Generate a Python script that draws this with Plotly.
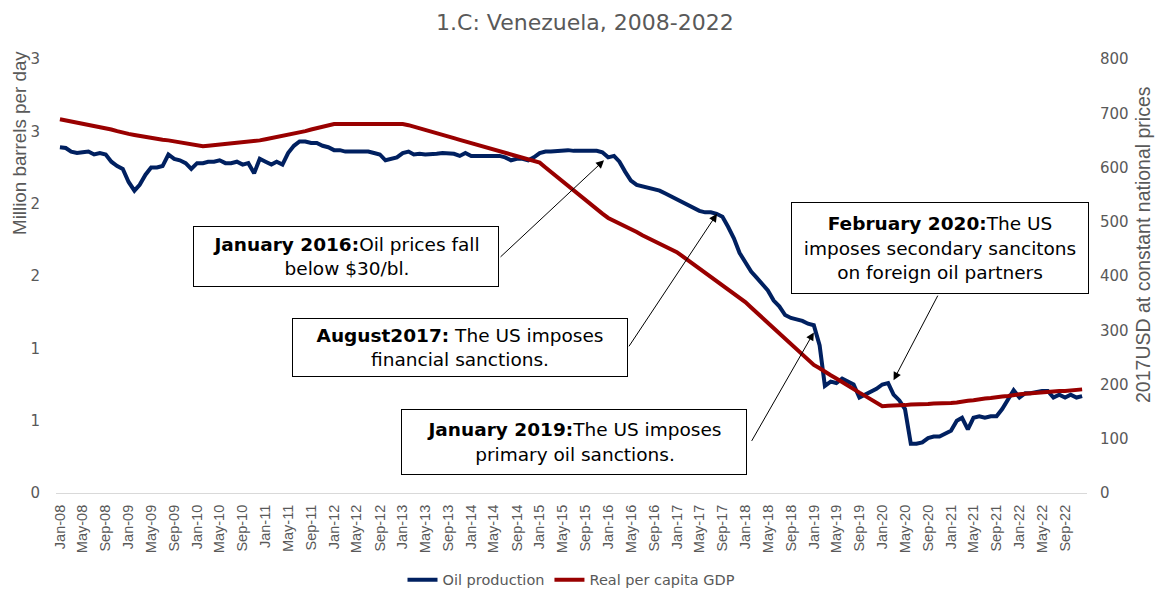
import pandas as pd
import plotly.graph_objects as go

MONTHS = pd.date_range("2008-01-01", periods=180, freq="MS")

OIL_PRODUCTION = [
    # 2008
    2.39, 2.385, 2.36, 2.35, 2.355, 2.36, 2.34, 2.35, 2.34, 2.29, 2.26, 2.24,
    # 2009
    2.15, 2.09, 2.13, 2.20, 2.25, 2.25, 2.26, 2.34, 2.31, 2.30, 2.28, 2.24,
    # 2010
    2.28, 2.28, 2.29, 2.29, 2.30, 2.28, 2.28, 2.29, 2.27, 2.28, 2.21, 2.31,
    # 2011
    2.29, 2.27, 2.29, 2.27, 2.35, 2.40, 2.43, 2.43, 2.42, 2.42, 2.40, 2.39,
    # 2012
    2.37, 2.37, 2.36, 2.36, 2.36, 2.355, 2.36, 2.35, 2.34, 2.30, 2.31, 2.32,
    # 2013
    2.35, 2.36, 2.34, 2.345, 2.34, 2.34, 2.345, 2.35, 2.35, 2.345, 2.33, 2.35,
    # 2014
    2.33, 2.33, 2.33, 2.335, 2.33, 2.33, 2.32, 2.30, 2.31, 2.31, 2.30, 2.32,
    # 2015
    2.35, 2.36, 2.36, 2.365, 2.37, 2.37, 2.365, 2.365, 2.36, 2.365, 2.365, 2.355,
    # 2016
    2.32, 2.33, 2.29, 2.22, 2.16, 2.13, 2.12, 2.11, 2.10, 2.09, 2.07, 2.05,
    # 2017
    2.03, 2.01, 1.99, 1.97, 1.95, 1.94, 1.94, 1.93, 1.91, 1.84, 1.76, 1.66,
    # 2018
    1.60, 1.53, 1.49, 1.44, 1.40, 1.33, 1.29, 1.23, 1.21, 1.20, 1.19, 1.17,
    # 2019
    1.16, 1.02, 0.74, 0.77, 0.76, 0.79, 0.77, 0.75, 0.66, 0.68, 0.70, 0.72,
    # 2020
    0.75, 0.76, 0.68, 0.64, 0.58, 0.34, 0.34, 0.35, 0.38, 0.39, 0.39, 0.41,
    # 2021
    0.43, 0.50, 0.52, 0.44, 0.52, 0.53, 0.52, 0.53, 0.53, 0.58, 0.64, 0.71,
    # 2022
    0.66, 0.69, 0.69, 0.70, 0.705, 0.705, 0.66, 0.68, 0.66, 0.68, 0.66, 0.67,
]

REAL_GDP_PER_CAPITA = [
    # 2008
    689, 687, 685, 683, 681, 679, 677, 675, 673, 670, 667, 664,
    # 2009
    662, 660, 658, 656, 654, 652, 651, 650, 648, 646, 644, 642,
    # 2010
    640, 639, 640, 641, 642, 643, 644, 645, 646, 647, 648, 650,
    # 2011
    652, 654, 656, 658, 660, 662, 665, 667, 670, 672, 675, 677,
    # 2012
    680, 680, 680, 680, 680, 680, 680, 680, 680, 680, 680, 680,
    # 2013
    680, 678, 675, 672, 669, 666, 663, 660, 657, 654, 651, 648,
    # 2014
    645, 642, 639, 636, 633, 630, 627, 624, 621, 618, 615, 612,
    # 2015
    609, 600, 592, 583, 575, 566, 558, 549, 541, 532, 524, 515,
    # 2016
    507, 502, 497, 491, 486, 481, 475, 470, 465, 460, 455, 449,
    # 2017
    444, 436, 429, 421, 413, 406, 398, 390, 383, 375, 367, 360,
    # 2018
    352, 342, 333, 323, 313, 304, 294, 284, 275, 265, 255, 246,
    # 2019
    236, 230, 223, 217, 211, 204, 198, 192, 185, 179, 173, 166,
    # 2020
    160, 161, 161, 162, 162, 163, 163, 164, 164, 165, 165, 166,
    # 2021
    166, 167, 169, 170, 171, 173, 174, 175, 177, 178, 179, 181,
    # 2022
    182, 183, 184, 184, 185, 186, 187, 188, 188, 189, 190, 191,
]

X_TICK_LABELS = [
    "Jan-08", "May-08", "Sep-08", "Jan-09", "May-09", "Sep-09", "Jan-10", "May-10", "Sep-10",
    "Jan-11", "May-11", "Sep-11", "Jan-12", "May-12", "Sep-12", "Jan-13", "May-13", "Sep-13",
    "Jan-14", "May-14", "Sep-14", "Jan-15", "May-15", "Sep-15", "Jan-16", "May-16", "Sep-16",
    "Jan-17", "May-17", "Sep-17", "Jan-18", "May-18", "Sep-18", "Jan-19", "May-19", "Sep-19",
    "Jan-20", "May-20", "Sep-20", "Jan-21", "May-21", "Sep-21", "Jan-22", "May-22", "Sep-22",
]
X_TICK_VALUES = MONTHS[::4]

LEFT_TICK_VALUES = [0, 0.5, 1, 1.5, 2, 2.5, 3]
LEFT_TICK_LABELS = ["0", "1", "1", "2", "2", "3", "3"]
RIGHT_TICK_VALUES = [0, 100, 200, 300, 400, 500, 600, 700, 800]

WIDE = "DejaVu Sans, Verdana, sans-serif"
NARROW = "Liberation Sans, Arial, sans-serif"
GREY = "#595959"

fig = go.Figure()
fig.add_trace(go.Scatter(
    x=MONTHS, y=OIL_PRODUCTION, name="Oil production", mode="lines",
    line=dict(color="#002060", width=4), yaxis="y",
))
fig.add_trace(go.Scatter(
    x=MONTHS, y=REAL_GDP_PER_CAPITA, name="Real per capita GDP", mode="lines",
    line=dict(color="#990000", width=4), yaxis="y2",
))

fig.update_layout(
    width=1156, height=590,
    margin=dict(l=56, r=69, t=59, b=97, autoexpand=False),
    paper_bgcolor="white", plot_bgcolor="white",
    font=dict(family=WIDE, color=GREY, size=15),
    title=dict(text="1.C: Venezuela, 2008-2022", x=0.506, xanchor="center",
               y=0.963, yanchor="middle", font=dict(size=22, color=GREY, family=WIDE)),
    xaxis=dict(
        range=["2007-12-11", "2022-12-27"],
        tickmode="array", tickvals=X_TICK_VALUES, ticktext=X_TICK_LABELS,
        tickangle=-90, tickfont=dict(size=14.5, color=GREY, family=NARROW),
        showgrid=False, zeroline=False, showline=True, linecolor="#D9D9D9", linewidth=1,
        ticks="", ticklabelstandoff=5, automargin=False,
    ),
    yaxis=dict(
        range=[0, 3], tickmode="array", tickvals=LEFT_TICK_VALUES, ticktext=LEFT_TICK_LABELS,
        showgrid=False, zeroline=False, showline=False, ticks="",
        tickfont=dict(size=15, color=GREY, family=WIDE), ticklabelstandoff=15,
        automargin=False,
    ),
    yaxis2=dict(
        range=[0, 800], tickmode="array", tickvals=RIGHT_TICK_VALUES,
        overlaying="y", side="right", showgrid=False, zeroline=False, showline=False, ticks="",
        tickfont=dict(size=15, color=GREY, family=WIDE), ticklabelstandoff=12,
        automargin=False,
    ),
    legend=dict(orientation="h", x=0.5, xanchor="center", y=-0.2, yanchor="middle",
                font=dict(size=14.5, color=GREY, family=WIDE), tracegroupgap=0),
    showlegend=True,
)

# Axis titles placed as in the reference (left one sits high on the axis), pixel -> paper
PL, PW, PT, PH = 56, 1031, 59, 434
def px_to_paper(px, py):
    return (px - PL) / PW, (PT + PH - py) / PH

lx, ly = px_to_paper(19, 143)
fig.add_annotation(x=lx, y=ly, xref="paper", yref="paper", text="Million barrels per day",
                   showarrow=False, textangle=-90, xanchor="center", yanchor="middle",
                   font=dict(size=18.8, color=GREY, family=NARROW))
rx, ry = px_to_paper(1143, 245)
fig.add_annotation(x=rx, y=ry, xref="paper", yref="paper",
                   text="2017USD at constant national prices",
                   showarrow=False, textangle=-90, xanchor="center", yanchor="middle",
                   font=dict(size=19.5, color=GREY, family=NARROW))

# Text boxes (positions in paper coordinates)
boxes = [
    dict(x=0.2813, y=0.5449, w=300, h=55,
         text="<b>January 2016:</b>Oil prices fall<br>below $30/bl."),
    dict(x=0.3919, y=0.3353, w=330, h=53,
         text="<b>August2017:</b> The US imposes<br>financial sanctions."),
    dict(x=0.5024, y=0.1175, w=340, h=60,
         text="<b>January 2019:</b>The US imposes<br>primary oil sanctions."),
    dict(x=0.8574, y=0.5645, w=292, h=86,
         text="<b>February 2020:</b>The US<br>imposes secondary sancitons<br>on foreign oil partners"),
]
for b in boxes:
    fig.add_annotation(
        x=b["x"], y=b["y"], xref="paper", yref="paper", xanchor="center", yanchor="middle",
        text=b["text"], showarrow=False, width=b["w"], height=b["h"], align="center",
        bgcolor="white", bordercolor="black", borderwidth=1, borderpad=2,
        font=dict(size=18.5, color="black", family=WIDE),
    )

# Arrows pointing to events (tips on the oil production axis)
arrows = [
    dict(x="2015-12-10", y=2.30, ax=-105, ay=98),
    dict(x="2017-08-03", y=1.93, ax=-89, ay=134),
    dict(x="2019-01-01", y=1.11, ax=-63, ay=110),
    dict(x="2020-03-01", y=0.78, ax=45, ay=-86),
]
for a in arrows:
    fig.add_annotation(
        x=a["x"], y=a["y"], xref="x", yref="y", ax=a["ax"], ay=a["ay"],
        axref="pixel", ayref="pixel", text="", showarrow=True,
        arrowhead=2, arrowsize=1.6, arrowwidth=1, arrowcolor="black",
    )

fig.write_html(
    "out.html",
    config={"displayModeBar": False},
    post_script="document.body.style.margin='0';document.body.style.padding='0';"
                "document.documentElement.style.overflow='hidden';",
)
